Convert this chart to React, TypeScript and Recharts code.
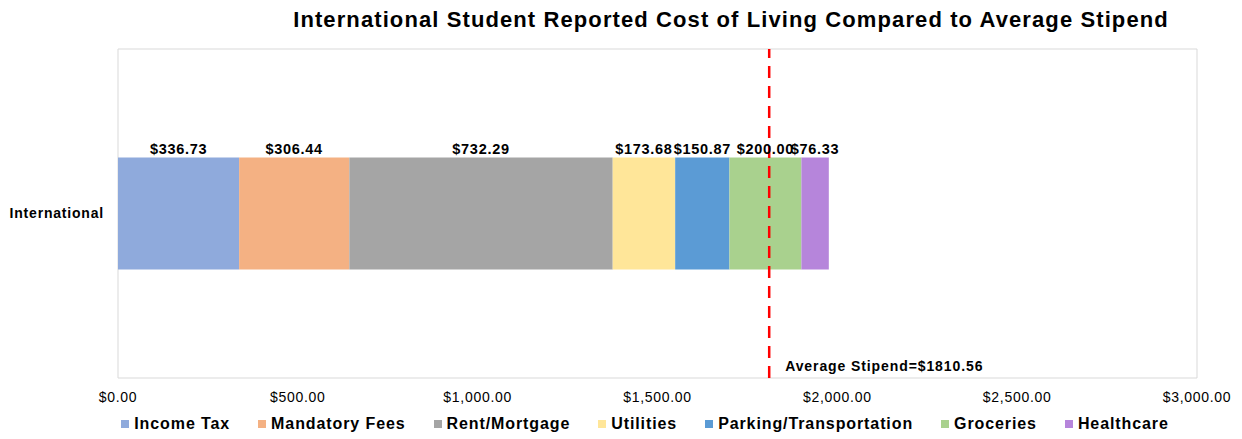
import React from 'react';
import { BarChart, Bar, XAxis, YAxis, CartesianGrid, ReferenceLine, LabelList, Legend } from 'recharts';

const categories = ['International'];
const seriesNames = ['Income Tax', 'Mandatory Fees', 'Rent/Mortgage', 'Utilities', 'Parking/Transportation', 'Groceries', 'Healthcare'];
const seriesValues = [336.73, 306.44, 732.29, 173.68, 150.87, 200.0, 76.33];
const seriesColors = ['#8FAADC', '#F4B183', '#A5A5A5', '#FFE699', '#5B9BD5', '#A9D18E', '#B685DB'];
const xTicks = [0, 500, 1000, 1500, 2000, 2500, 3000];
const averageStipend = 1810.56;

const FONT = '"Liberation Sans", Arial, sans-serif';

const data = categories.map((name) => {
  const row: Record<string, string | number> = { name };
  seriesNames.forEach((s, i) => {
    row[s] = seriesValues[i];
  });
  return row;
});

const money = (v: number) =>
  '$' + v.toLocaleString('en-US', { minimumFractionDigits: 2, maximumFractionDigits: 2 });

const LegendContent = () => (
  <div style={{ display: 'flex', justifyContent: 'center', alignItems: 'center', height: 31, paddingLeft: 93, fontFamily: FONT, fontWeight: 'bold', fontSize: 16, letterSpacing: 0.9, color: '#000' }}>
    {seriesNames.map((s, i) => (
      <div key={s} style={{ display: 'flex', alignItems: 'center', marginRight: i < seriesNames.length - 1 ? 28 : 0 }}>
        <span style={{ width: 8, height: 8, background: seriesColors[i], marginRight: 5, display: 'inline-block' }} />
        <span>{s}</span>
      </div>
    ))}
  </div>
);

const StipendLabel = (props: any) => {
  const { viewBox } = props;
  return (
    <text x={viewBox.x + 16} y={viewBox.y + viewBox.height - 7} fontFamily={FONT} fontWeight="bold" fontSize={14} fill="#000" style={{ letterSpacing: 0.9 }}>
      {`Average Stipend=$${averageStipend}`}
    </text>
  );
};

export default function App() {
  return (
    <div style={{ position: 'absolute', left: 0, top: 0, width: 1242, height: 439, background: '#fff' }}>
      <div style={{ position: 'absolute', top: 7, left: 0, width: 1462, textAlign: 'center', fontFamily: FONT, fontWeight: 'bold', fontSize: 22, letterSpacing: 1.1, color: '#000' }}>
        International Student Reported Cost of Living Compared to Average Stipend
      </div>
      <BarChart
        width={1242}
        height={439}
        data={data}
        layout="vertical"
        margin={{ top: 49, right: 45, bottom: 0, left: 0 }}
        barCategoryGap="33%"
      >
        <CartesianGrid
          stroke="#D9D9D9"
          verticalCoordinatesGenerator={({ offset }: any) => [offset.left, offset.left + offset.width]}
          horizontalCoordinatesGenerator={({ offset }: any) => [offset.top, offset.top + offset.height]}
        />
        <XAxis
          type="number"
          domain={[0, 3000]}
          ticks={xTicks}
          tickFormatter={money}
          axisLine={false}
          tickLine={false}
          tickMargin={8}
          height={30}
          tick={{ fontFamily: FONT, fontSize: 14, fill: '#000', style: { letterSpacing: 0.7 } }}
        />
        <YAxis
          type="category"
          dataKey="name"
          width={118}
          axisLine={false}
          tickLine={false}
          tickSize={0}
          tickMargin={14}
          tick={{ fontFamily: FONT, fontSize: 14, fontWeight: 'bold', fill: '#000', style: { letterSpacing: 0.8 } }}
        />
        <Legend verticalAlign="bottom" height={31} content={<LegendContent />} />
        {seriesNames.map((s, i) => (
          <Bar key={s} dataKey={s} stackId="a" fill={seriesColors[i]} isAnimationActive={false}>
            <LabelList
              dataKey={s}
              position="top"
              offset={4}
              formatter={(v: any) => money(Number(v))}
              style={{ fontFamily: FONT, fontSize: 14.5, fontWeight: 'bold', fill: '#000', letterSpacing: 0.7 }}
            />
          </Bar>
        ))}
        <ReferenceLine
          x={averageStipend}
          stroke="#FF0000"
          strokeWidth={2.5}
          strokeDasharray="12 8"
          label={<StipendLabel />}
        />
      </BarChart>
    </div>
  );
}
